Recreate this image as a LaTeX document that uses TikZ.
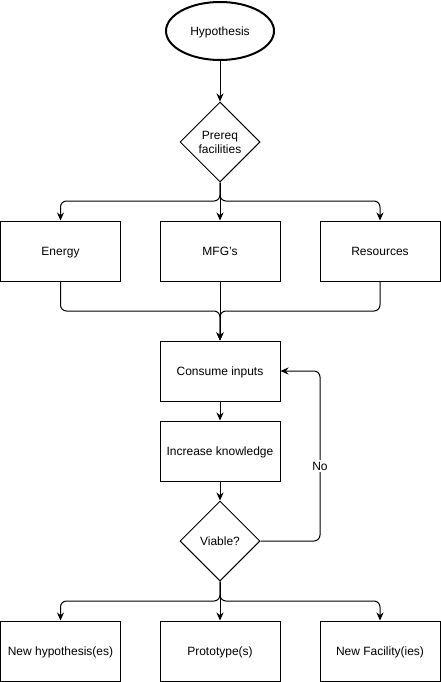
\documentclass[tikz,border=0pt]{standalone}
\usepackage{fontspec}
\setmainfont{Liberation Sans}
\usetikzlibrary{shapes.geometric,arrows.meta}
\tikzset{
  box/.style={draw, line width=1pt, minimum width=120pt, minimum height=60pt, inner sep=0pt, font=\fontsize{12}{14}\selectfont, text height=8.6pt, text depth=0pt},
  dia/.style={draw, diamond, line width=1pt, minimum width=80pt, minimum height=80pt, inner sep=0pt, font=\fontsize{12}{14}\selectfont, align=center},
  oval/.style={draw, ellipse, line width=2pt, minimum width=108pt, minimum height=58pt, inner sep=0pt, font=\fontsize{12}{14}\selectfont, text height=8.6pt, text depth=0pt},
  arr/.style={line width=1pt, -{Stealth[length=8pt,width=7pt]}, rounded corners=6pt},
  lbl/.style={fill=white, inner sep=1.5pt, font=\fontsize{12}{14}\selectfont}
}
\begin{document}
\begin{tikzpicture}[x=1pt,y=-1pt]
\useasboundingbox (0,0) rectangle (441,682);
\node[oval] (hyp) at (220,31) {Hypothesis};
\node[dia] (pre) at (220,142) {Prereq\\facilities};
\node[box] (en) at (60.5,251) {Energy};
\node[box] (mfg) at (220,251) {MFG's};
\node[box] (res) at (380,251) {Resources};
\node[box] (con) at (220,371) {Consume inputs};
\node[box] (inc) at (220,451) {Increase knowledge};
\node[dia, text height=8.6pt, text depth=0pt] (via) at (220,541) {Viable?};
\node[box] (nh) at (60.5,651) {New hypothesis(es)};
\node[box] (pro) at (220,651) {Prototype(s)};
\node[box] (nf) at (380,651) {New Facility(ies)};
\coordinate (s1) at (220,201);
\coordinate (m1) at (220,311);
\coordinate (s2) at (220,601);
\coordinate (nx) at (320,466);
\draw[arr] (hyp) -- (pre);
\draw[arr] (pre.south) -- (s1) -| (en.north);
\draw[arr] (pre.south) -- (mfg.north);
\draw[arr] (pre.south) -- (s1) -| (res.north);
\draw[arr] (en.south) |- (m1) -- (con.north);
\draw[arr] (res.south) |- (m1) -- (con.north);
\draw[arr] (mfg.south) -- (con.north);
\draw[arr] (con) -- (inc);
\draw[arr] (inc) -- (via);
\draw[arr] (via.east) -| (nx) |- (con.east);
\node[lbl] at (nx) {No};
\draw[arr] (via.south) -- (s2) -| (nh.north);
\draw[arr] (via.south) -- (pro.north);
\draw[arr] (via.south) -- (s2) -| (nf.north);
\end{tikzpicture}
\end{document}
